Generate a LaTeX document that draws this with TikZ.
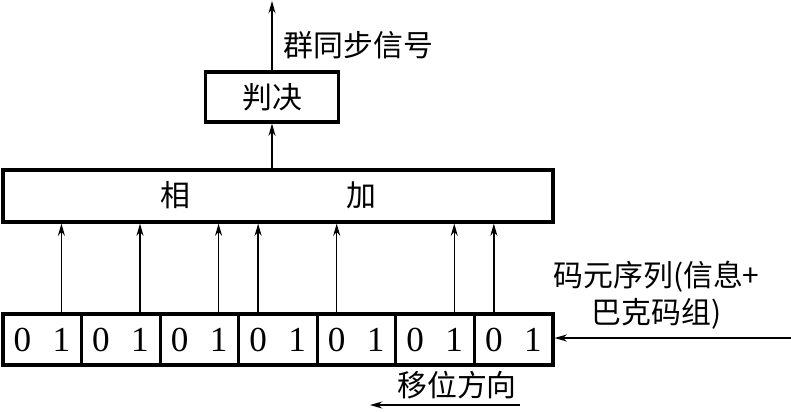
\documentclass[tikz,border=0pt]{standalone}
\usepackage{fontspec}
\setmainfont{Liberation Serif}
\newfontfamily\cjk{Noto Sans CJK SC}
\usetikzlibrary{arrows.meta,positioning,calc}

\tikzset{
  box/.style={draw,line width=1.8pt,inner sep=0pt},
  cell/.style={box,minimum width=1.5714cm,minimum height=1.02cm},
  sig/.style={line width=0.8pt,-{Stealth[length=7pt,width=4pt]}},
  bit/.style={font=\fontsize{20}{22}\selectfont},
  lab/.style={font=\cjk\fontsize{17}{21}\selectfont}
}

\begin{document}
\begin{tikzpicture}
      \useasboundingbox (0,0) rectangle (15.82,8.22);
      % shift register
      \foreach \i in {1,...,7} {
        \node[cell] (c\i) at ({0.06+(\i-0.5)*1.5714},1.43) {};
        \node[bit] (z\i) at ($(c\i.west)+(0.42,0)$) {0};
        \node[bit] (o\i) at ($(c\i.west)+(1.2,0)$) {1};
      }
      \node[box,minimum width=11cm,minimum height=1.04cm] (sum) at (5.56,4.30) {};
      \node[lab] (sumA) at (3.5,4.32) {相};
      \node[lab] (sumB) at (7.22,4.32) {加};
      \node[box,minimum width=2.66cm,minimum height=1cm,lab] (dec) at (5.44,6.28) {判决};
      \coordinate (out) at (5.44,8.2);
      \coordinate (in) at (15.82,1.46);
      \coordinate (shA) at (10.4,0.12);
      \coordinate (shB) at (7.4,0.12);
      % taps 1110010
      \foreach \t in {o1,o2,o3,z4,z5,o6,z7}
        \draw[sig] (\t |- c1.north) -- (\t |- sum.south);
      \draw[sig] (dec |- sum.north) -- (dec.south);
      \draw[sig] (dec.north) -- (out);
      \node[lab] (outl) at (7.17,7.32) {群同步信号};
      \draw[sig] (in) -- (in -| c7.east);
      \node[lab,align=center] (inl) at (13.13,2.32) {码元序列(信息+\\巴克码组)};
      \draw[sig] (shA) -- (shB);
      \node[lab] (shl) at (9.14,0.52) {移位方向};
    \end{tikzpicture}
\end{document}
